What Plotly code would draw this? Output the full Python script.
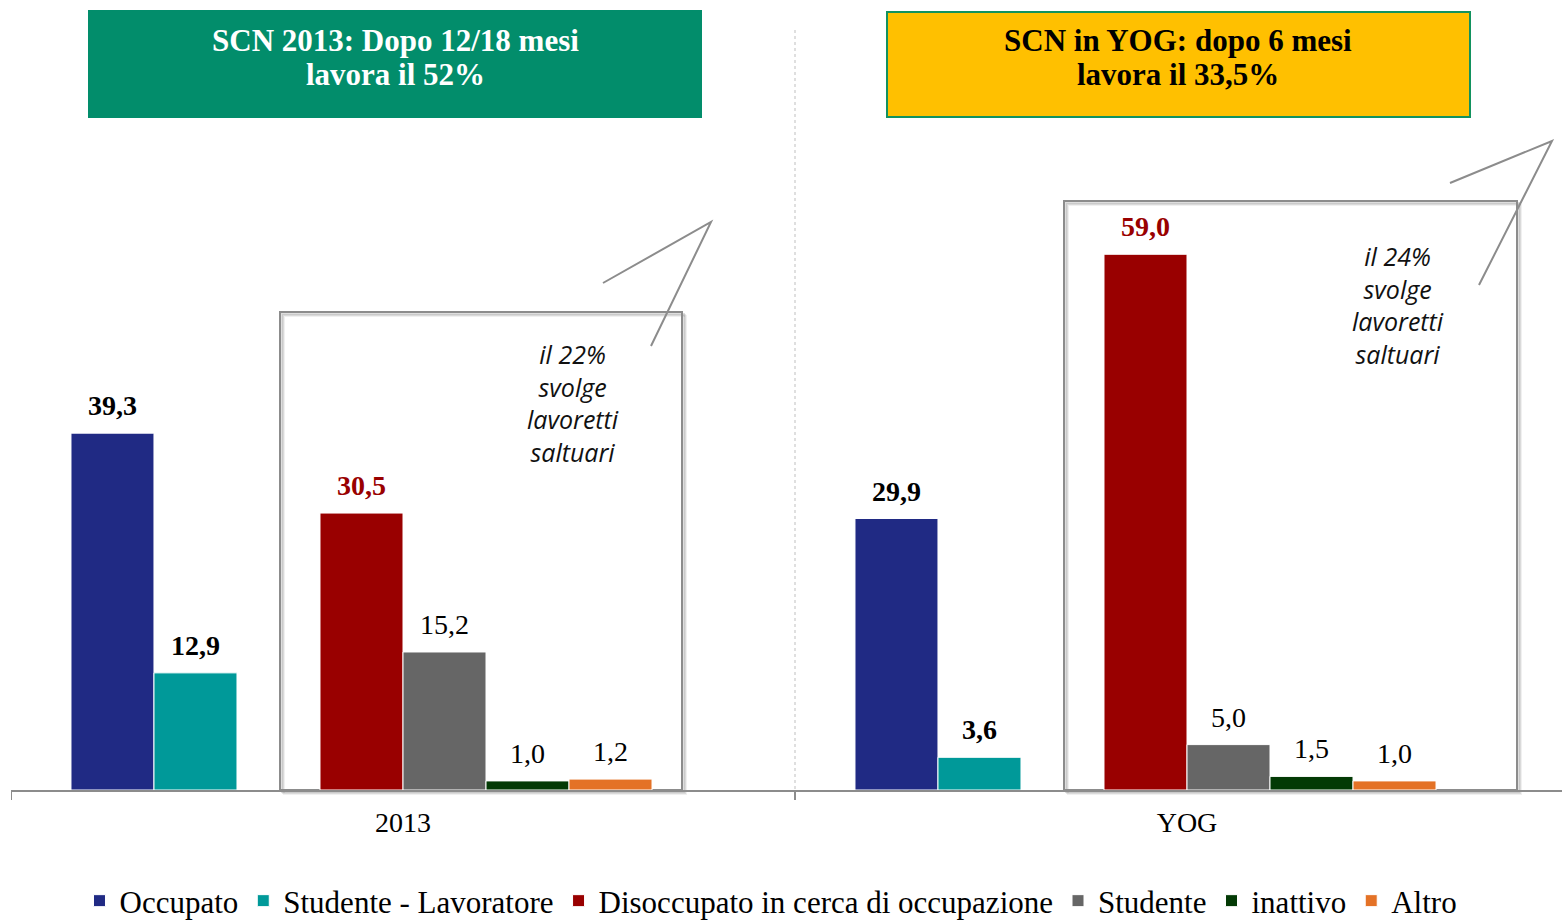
import plotly.graph_objects as go

# ---------------- data ----------------
categories = ["2013", "YOG"]
series_names = ["Occupato", "Studente - Lavoratore", "Disoccupato in cerca di occupazione",
                "Studente", "inattivo", "Altro"]
occupato = [39.3, 29.9]
studente_lavoratore = [12.9, 3.6]
disoccupato = [30.5, 59.0]
studente = [15.2, 5.0]
inattivo = [1.0, 1.5]
altro = [1.2, 1.0]
series_values = [occupato, studente_lavoratore, disoccupato, studente, inattivo, altro]
titles = [["SCN 2013: Dopo 12/18 mesi", "lavora il 52%"], ["SCN in YOG: dopo 6 mesi", "lavora il 33,5%"]]
notes = ["il 22%<br>svolge<br>lavoretti<br>saltuari", "il 24%<br>svolge<br>lavoretti<br>saltuari"]

# ---------------- style ----------------
colors = ["#202A84", "#009999", "#990000", "#666666", "#033A05", "#E47226"]
label_colors = ["#000000", "#000000", "#990000", "#000000", "#000000", "#000000"]
label_bold = [True, True, True, False, False, False]
slots = [0, 1, 3, 4, 5, 6]          # 8 slots per group, slots 2 and 7 empty
n_slots = 8
bargap = 0.153
slot_w = (1 - bargap) / n_slots

SERIF = "Liberation Serif"
W, H = 1562, 921
ML, MR, MT, MB = 11, 0, 0, 131
PW, PH = W - ML - MR, H - MT - MB


def px(x):
    return (x - ML) / PW


def py(y):
    return (H - MB - y) / PH


fig = go.Figure()
for i, name in enumerate(series_names):
    off = -0.5 + bargap / 2 + slots[i] * slot_w
    fig.add_trace(go.Bar(
        x=[0, 1], y=series_values[i], name=name,
        width=slot_w, offset=off,
        marker=dict(color=colors[i], line=dict(color="white", width=1)),
        hoverinfo="y+name",
    ))
    for c, v in enumerate(series_values[i]):
        txt = f"{v:.1f}".replace(".", ",")
        if label_bold[i]:
            txt = f"<b>{txt}</b>"
        fig.add_annotation(
            x=c + off + slot_w / 2, y=v, xref="x", yref="y",
            text=txt, showarrow=False, xanchor="center", yanchor="bottom", yshift=10,
            font=dict(family=SERIF, size=28, color=label_colors[i]),
        )

shapes = []
# vertical dotted separator
shapes.append(dict(type="line", xref="paper", yref="paper", x0=px(795), x1=px(795),
                   y0=py(30), y1=py(790), line=dict(color="#BFBFBF", width=1, dash="dot")))

# framed boxes with shadow
for (x0, y0, x1, y1) in [(280, 312, 682, 790), (1064, 201, 1517, 790)]:
    for k, a in [(4, 0.06), (3, 0.09), (2, 0.13)]:
        shapes.append(dict(type="rect", xref="paper", yref="paper",
                           x0=px(x0 + k), x1=px(x1 + k), y0=py(y1 + k), y1=py(y0 + k),
                           line=dict(color=f"rgba(0,0,0,{a})", width=2), fillcolor="rgba(0,0,0,0)",
                           layer="below"))
    shapes.append(dict(type="rect", xref="paper", yref="paper",
                       x0=px(x0), x1=px(x1), y0=py(y1), y1=py(y0),
                       line=dict(color="#8C8C8C", width=2), fillcolor="rgba(0,0,0,0)", layer="below"))

# callout "tails"
for pts in [[(603, 283), (711, 222), (651, 346)], [(1450, 183), (1552, 141), (1479, 285)]]:
    path = "M " + " L ".join(f"{px(x)},{py(y)}" for x, y in pts)
    shapes.append(dict(type="path", xref="paper", yref="paper", path=path,
                       line=dict(color="#8C8C8C", width=2)))

# title boxes
shapes.append(dict(type="rect", xref="paper", yref="paper", x0=px(88), x1=px(702),
                   y0=py(118), y1=py(10), fillcolor="#028D6B", line=dict(width=0)))
shapes.append(dict(type="rect", xref="paper", yref="paper", x0=px(887), x1=px(1470),
                   y0=py(117), y1=py(12), fillcolor="#FFC000", line=dict(color="#12925E", width=2)))

fig.update_layout(shapes=shapes)

for (cx, col), lines in zip([(395, "white"), (1178, "black")], titles):
    for ly, line in zip([40, 74], lines):
        fig.add_annotation(xref="paper", yref="paper", x=px(cx), y=py(ly), text=f"<b>{line}</b>",
                           showarrow=False, xanchor="center", yanchor="middle",
                           font=dict(family=SERIF, size=31, color=col))

for (cx, cy), note in zip([(573, 403), (1398, 305)], notes):
    fig.add_annotation(xref="paper", yref="paper", x=px(cx), y=py(cy), text=f"<i>{note}</i>",
                       showarrow=False, align="center", xanchor="center", yanchor="middle",
                       font=dict(family="Open Sans", size=25, color="#111111"))

fig.update_layout(
    width=W, height=H,
    margin=dict(l=ML, r=MR, t=MT, b=MB, autoexpand=False),
    plot_bgcolor="white", paper_bgcolor="white",
    barmode="overlay",
    showlegend=True,
    legend=dict(orientation="h", x=0.49, xanchor="center", y=py(901), yanchor="middle",
                font=dict(family=SERIF, size=31, color="black"), itemwidth=30,
                traceorder="normal"),
    xaxis=dict(range=[-0.5, -0.5 + PW / 784], tickvals=[0, 1], ticktext=categories,
               showgrid=False, zeroline=False, showline=True, linecolor="#8C8C8C", linewidth=2,
               ticks="", ticklabelstandoff=6, tickfont=dict(family=SERIF, size=28, color="black")),
    yaxis=dict(range=[0, PH / 9.08], visible=False, showgrid=False, zeroline=False),
)

# boundary ticks on x axis
for b in [-0.5, 0.5, 1.5]:
    fig.add_shape(type="line", xref="x", yref="paper", x0=b, x1=b, y0=0, y1=py(800),
                  line=dict(color="#8C8C8C", width=2))

fig.write_html("out.html", config={"displayModeBar": False},
               post_script="document.body.style.margin='0';")
